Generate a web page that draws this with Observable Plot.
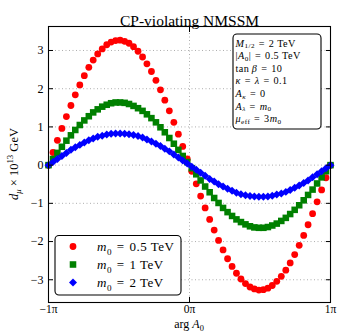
<!DOCTYPE html>
<html>
<head>
<meta charset="utf-8">
<script src="https://cdn.jsdelivr.net/npm/d3@7"></script>
<script src="https://cdn.jsdelivr.net/npm/@observablehq/plot@0.6"></script>
<style>
  html, body { margin: 0; padding: 0; background: white; }
  svg text { font-family: "Liberation Serif", "DejaVu Serif", serif; }
</style>
</head>
<body>
<div id="chart"></div>
<script>
// ---- data (arg A0 in units of pi) ----
const argA0 = [-1.000,-0.968,-0.937,-0.905,-0.873,-0.841,-0.810,-0.778,-0.746,-0.714,-0.683,-0.651,-0.619,-0.587,-0.556,-0.524,
  -0.492,-0.460,-0.429,-0.397,-0.365,-0.333,-0.302,-0.270,-0.238,-0.206,-0.175,-0.143,-0.111,-0.079,-0.048,-0.016,
  0.016,0.048,0.079,0.111,0.143,0.175,0.206,0.238,0.270,0.302,0.333,0.365,0.397,0.429,0.460,0.492,
  0.524,0.556,0.587,0.619,0.651,0.683,0.714,0.746,0.778,0.810,0.841,0.873,0.905,0.937,0.968,1.000];
const dmuM05 = [0,0.33,0.65,0.96,1.27,1.56,1.84,2.10,2.34,2.56,2.75,2.91,3.04,3.15,3.22,3.26,
  3.27,3.24,3.19,3.10,2.98,2.83,2.65,2.45,2.22,1.97,1.70,1.42,1.12,0.81,0.49,0.16,
  -0.16,-0.49,-0.81,-1.12,-1.42,-1.70,-1.97,-2.22,-2.45,-2.65,-2.83,-2.98,-3.10,-3.19,-3.24,-3.27,
  -3.26,-3.22,-3.15,-3.04,-2.91,-2.75,-2.56,-2.34,-2.10,-1.84,-1.56,-1.27,-0.96,-0.65,-0.33,0];
const dmuM1 = [0,0.16,0.32,0.48,0.64,0.78,0.92,1.05,1.17,1.28,1.38,1.46,1.53,1.58,1.62,1.64,
  1.64,1.63,1.60,1.55,1.49,1.42,1.33,1.23,1.12,0.99,0.86,0.71,0.56,0.40,0.24,0.08,
  -0.08,-0.24,-0.40,-0.56,-0.71,-0.86,-0.99,-1.12,-1.23,-1.33,-1.42,-1.49,-1.55,-1.60,-1.63,-1.64,
  -1.64,-1.62,-1.58,-1.53,-1.46,-1.38,-1.28,-1.17,-1.05,-0.92,-0.78,-0.64,-0.48,-0.32,-0.16,0];
const dmuM2 = [0,0.08,0.16,0.24,0.32,0.40,0.47,0.53,0.59,0.65,0.70,0.74,0.77,0.80,0.82,0.83,
  0.83,0.82,0.81,0.79,0.76,0.72,0.67,0.62,0.56,0.50,0.43,0.36,0.28,0.20,0.12,0.04,
  -0.04,-0.12,-0.20,-0.28,-0.36,-0.43,-0.50,-0.56,-0.62,-0.67,-0.72,-0.76,-0.79,-0.81,-0.82,-0.83,
  -0.83,-0.82,-0.80,-0.77,-0.74,-0.70,-0.65,-0.59,-0.53,-0.47,-0.40,-0.32,-0.24,-0.16,-0.08,0];

const seriesNames = ["0.5 TeV", "1 TeV", "2 TeV"];
const seriesColors = ["#ff0000", "#008000", "#0000ff"];
const seriesSymbols = ["circle", "square", "diamond2"];
const yTicks = [-3, -2, -1, 0, 1, 2, 3];
const xTicks = [-1, 0, 1];
const xTickLabels = ["\u22121\u03c0", "0\u03c0", "1\u03c0"];
const titleText = "CP-violating NMSSM";
const EQ = "\u2004=\u2004";
// segments: [text, style]  i = italic, r = roman, s = subscript roman, si = subscript italic, p = superscript
const paramLines = [
  [["M","i"],["1/2","s"],[EQ + "2 TeV","r"]],
  [["|","r"],["A","i"],["0","s"],["|" + EQ + "0.5 TeV","r"]],
  [["tan\u2009","r"],["\u03b2","i"],[EQ + "10","r"]],
  [["\u03ba","i"],[EQ,"r"],["\u03bb","i"],[EQ + "0.1","r"]],
  [["A","i"],["\u03ba","si"],[EQ + "0","r"]],
  [["A","i"],["\u03bb","si"],[EQ,"r"],["m","i"],["0","s"]],
  [["\u03bc","i"],["eff","s"],[EQ + "3","r"],["m","i"],["0","s"]]
];
const yLabelSegs = [["d","i"],["\u03bc","si"],[" \u00d7 10","r"],["13","p"],[" GeV","r"]];
const xLabelSegs = [["arg ","r"],["A","i"],["0","s"]];

const seriesValues = [dmuM05, dmuM1, dmuM2];
const rows = seriesValues.map((vals, k) => vals.map((v, i) => ({x: argA0[i], y: v, s: seriesNames[k]})));

const gridStyle = {stroke: "#999", strokeOpacity: 1, strokeWidth: 0.8, strokeDasharray: "1,2.5"};

const plot = Plot.plot({
  width: 338, height: 333,
  marginTop: 26, marginLeft: 48, marginRight: 8, marginBottom: 31,
  style: {fontFamily: "Liberation Serif", fontSize: "12px", background: "white", color: "black"},
  x: {domain: [-1, 1], label: null},
  y: {domain: [-3.595, 3.628], label: null},
  marks: [
    Plot.gridY(yTicks, gridStyle),
    Plot.gridX(xTicks, gridStyle),
    Plot.dot(rows[0], {x: "x", y: "y", r: 3.4, fill: seriesColors[0], symbol: seriesSymbols[0]}),
    Plot.dot(rows[1], {x: "x", y: "y", r: 3.7, fill: seriesColors[1], symbol: seriesSymbols[1]}),
    Plot.dot(rows[2], {x: "x", y: "y", r: 3.6, fill: seriesColors[2], symbol: seriesSymbols[2]}),
    Plot.axisY(yTicks, {anchor: "left", tickSize: -5, tickPadding: 10, fontSize: 12, label: null}),
    Plot.axisY(yTicks, {anchor: "right", tickSize: -5, tickFormat: () => "", label: null}),
    Plot.axisX(xTicks, {anchor: "bottom", tickSize: -5, tickPadding: 7, fontSize: 11.5, tickFormat: d => xTickLabels[xTicks.indexOf(d)], label: null}),
    Plot.axisX(xTicks, {anchor: "top", tickSize: -5, tickFormat: () => "", label: null}),
    Plot.frame({stroke: "black", strokeWidth: 1.1}),
    Plot.text([titleText], {text: d => d, frameAnchor: "top", dy: -12, fontSize: 15.5, fill: "black"})
  ]
});

document.getElementById("chart").appendChild(plot);

const svg = d3.select(plot);
const xs = plot.scale("x"), ys = plot.scale("y");

function mathText(g, x, y, segs, size, anchor, subShift) {
  const t = g.append("text").attr("x", x).attr("y", y).attr("font-size", size)
    .attr("text-anchor", anchor || "start").attr("fill", "black");
  let off = 0;
  for (const [s, st] of segs) {
    let target = 0, fs = size;
    if (st === "s" || st === "si") { target = (subShift ?? 0.28) * size; fs = size * 0.7; }
    if (st === "p") { target = -0.4 * size; fs = size * 0.7; }
    const ts = t.append("tspan").text(s).attr("font-size", fs).attr("dy", target - off);
    off = target;
    if (st === "i" || st === "si") ts.attr("font-style", "italic");
  }
  return t;
}

const frameLeft = xs.apply(-1), frameRight = xs.apply(1);
const frameTop = ys.apply(3.628), frameBottom = ys.apply(-3.595);

// axis labels
mathText(svg, (frameLeft + frameRight) / 2, 328, xLabelSegs, 12, "middle", 0.22);
const yl = svg.append("g").attr("transform", `translate(17.5,${(frameTop + frameBottom) / 2}) rotate(-90)`);
mathText(yl, 0, 0, yLabelSegs, 12.5, "middle");

// parameter box
const pb = svg.append("g");
pb.append("rect").attr("x", 233).attr("y", 34).attr("width", 88).attr("height", 95)
  .attr("rx", 4).attr("fill", "white").attr("stroke", "black").attr("stroke-width", 1.1);
paramLines.forEach((segs, i) => mathText(pb, 235.5, 46.5 + i * 12.6, segs, 10.2, "start", 0.18).attr("letter-spacing", 0.45));

// legend
const lg = svg.append("g");
lg.append("rect").attr("x", 55).attr("y", 235.5).attr("width", 126).attr("height", 59.5)
  .attr("rx", 4).attr("fill", "white").attr("stroke", "black").attr("stroke-width", 1.1);
const symMap = {circle: d3.symbolCircle, square: d3.symbolSquare, diamond2: d3.symbolDiamond2};
const symR = [3.4, 3.7, 3.6];
seriesNames.forEach((name, k) => {
  const cy = 246.5 + k * 18;
  lg.append("path").attr("transform", `translate(73,${cy})`)
    .attr("d", d3.symbol(symMap[seriesSymbols[k]], Math.PI * symR[k] * symR[k])())
    .attr("fill", seriesColors[k]);
  mathText(lg, 97, cy + 4.5, [["m","i"],["0","s"],[EQ + name,"r"]], 13).attr("letter-spacing", 0.5);
});
</script>
</body>
</html>
